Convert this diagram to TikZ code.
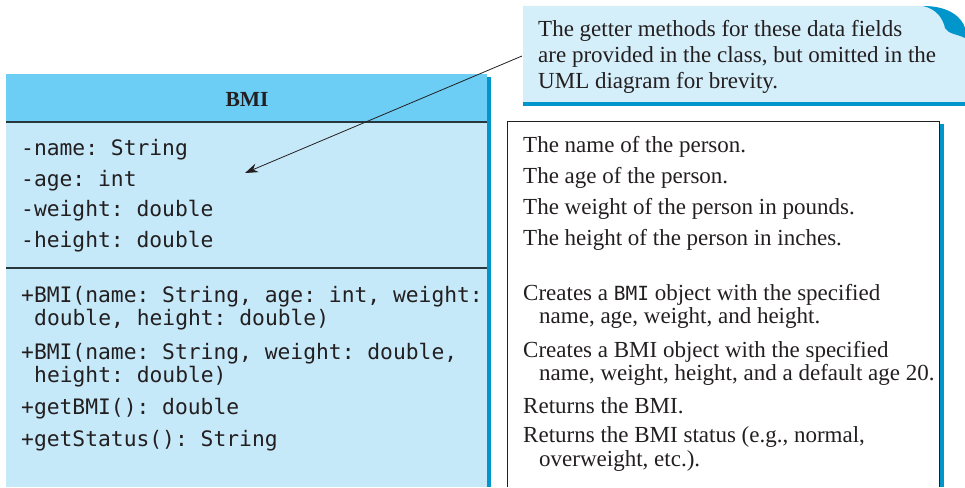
\documentclass[tikz,border=0pt]{standalone}
\usepackage{fontspec}
\setmainfont{Liberation Serif}
\setmonofont{DejaVu Sans Mono}
\usetikzlibrary{arrows.meta}
\definecolor{hdr}{RGB}{108,206,245}
\definecolor{bodyc}{RGB}{198,233,249}
\definecolor{notec}{RGB}{212,238,250}
\definecolor{shad}{RGB}{0,150,204}
\definecolor{ink}{RGB}{35,31,32}
\definecolor{sepc}{RGB}{40,55,62}
\begin{document}
\begin{tikzpicture}[x=1pt,y=-1pt,
  mono/.style={anchor=base west, inner sep=0pt, font=\fontsize{21.3}{24}\ttfamily, text=ink},
  desc/.style={anchor=base west, inner sep=0pt, font=\fontsize{23}{24}\selectfont, text=ink},
  notetext/.style={anchor=base west, inner sep=0pt, font=\fontsize{23}{24}\selectfont, text=ink},
  sepline/.style={draw=sepc, line width=1.4pt},
  shadowbar/.style={fill=shad, draw=none}]
\useasboundingbox (0,0) rectangle (965,487);

% ---------- class box ----------
\fill[hdr] (6,74) rectangle (487,122);
\fill[bodyc] (6,122) rectangle (487,487);
\fill[shadowbar] (487,77) rectangle (491,487);
\draw[sepline] (6,122) -- (487,122);
\draw[sepline] (6,268) -- (487,268);
\node[anchor=base, inner sep=0pt, font=\fontsize{21.5}{24}\bfseries, text=ink] (title) at (247,106) {BMI};

\node[mono] (f1) at (21,155) {-name: String};
\node[mono] (f2) at (21,186) {-age: int};
\node[mono] (f3) at (21,216) {-weight: double};
\node[mono] (f4) at (21,247) {-height: double};

\node[mono] (m1a) at (21,302) {+BMI(name: String, age: int, weight:};
\node[mono] (m1b) at (34,325) {double, height: double)};
\node[mono] (m2a) at (21,359) {+BMI(name: String, weight: double,};
\node[mono] (m2b) at (34,382) {height: double)};
\node[mono] (m3) at (21,414) {+getBMI(): double};
\node[mono] (m4) at (21,446) {+getStatus(): String};

% ---------- description box ----------
\draw[ink, line width=1pt] (507,487) -- (507,121) -- (939,121) -- (939,487);
\fill[shadowbar] (940,124) rectangle (944,487);

\node[desc] (d1) at (523,152) {The name of the person.};
\node[desc] (d2) at (523,183) {The age of the person.};
\node[desc] (d3) at (523,214) {The weight of the person in pounds.};
\node[desc] (d4) at (523,245) {The height of the person in inches.};
\node[desc] (d5a) at (523,300) {Creates a {\fontsize{19.5}{20}\ttfamily BMI} object with the specified};
\node[desc] (d5b) at (539,323) {name, age, weight, and height.};
\node[desc] (d6a) at (523,357) {Creates a BMI object with the specified};
\node[desc] (d6b) at (539,380) {name, weight, height, and a default age 20.};
\node[desc] (d7) at (523,413) {Returns the BMI.};
\node[desc] (d8a) at (523,442) {Returns the BMI status (e.g., normal,};
\node[desc] (d8b) at (539,466) {overweight, etc.).};

% ---------- note ----------
\fill[notec] (523,6) -- (923,6) .. controls (950,6) and (962,18) .. (965,28) -- (965,102) -- (523,102) -- cycle;
\fill[shadowbar] (523,102) rectangle (965,106);
\fill[shad] (923,6) .. controls (950,6) and (962,18) .. (965,28) -- (965,38)
  .. controls (957,34) and (948,34) .. (945,28) .. controls (943,19) and (937,9) .. (923,6) -- cycle;
\node[notetext] (n1) at (538,37) {The getter methods for these data fields};
\node[notetext] (n2) at (538,62.5) {are provided in the class, but omitted in the};
\node[notetext] (n3) at (538,88) {UML diagram for brevity.};

\coordinate (noteL) at (522,56);
\coordinate (tip) at (245,173);
\draw[ink, line width=0.8pt, -{Stealth[length=13pt,width=9pt]}] (noteL) -- (tip);
\end{tikzpicture}
\end{document}
